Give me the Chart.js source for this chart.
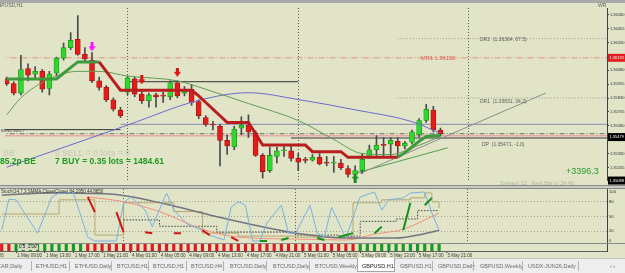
<!DOCTYPE html>
<html>
<head>
<meta charset="utf-8">
<script src="https://cdn.jsdelivr.net/npm/chart.js@4.4.1/dist/chart.umd.min.js"></script>
<style>
  html, body { margin: 0; padding: 0; }
  body { width: 625px; height: 273px; overflow: hidden; background: #e2e4c8; position: relative;
         font-family: "Liberation Sans", Arial, sans-serif; }
  canvas { position: absolute; left: 0; }
  .t { position: absolute; white-space: nowrap; line-height: 1; }
  .tab { position: absolute; top: 264px; font-size: 5.5px; color: #6a6a6a; white-space: nowrap; line-height: 1; }
  .tabsep { position: absolute; top: 261px; width: 1px; height: 10px; background: #b4b4b4; }
</style>
</head>
<body>
<div class="t" style="left:0;top:0;width:625px;height:3px;background:#a8a8a8"></div>
<canvas id="priceChart" width="625" height="182" style="top:3px"></canvas>
<div class="t" style="left:0;top:185px;width:625px;height:1px;background:#8a8a8a"></div>
<div class="t" style="left:0;top:186px;width:625px;height:2px;background:#c9c9c0"></div>
<div class="t" style="left:0;top:188px;width:625px;height:1px;background:#8a8a8a"></div>
<canvas id="oscChart" width="625" height="54" style="top:189px"></canvas>
<div class="t" style="left:0;top:243px;width:625px;height:1px;background:#8a8a8a"></div>
<canvas id="histChart" width="625" height="14" style="top:244px"></canvas>

<!-- chart texts -->
<div class="t" style="left:-6px;top:3px;font-size:5px;color:#5a5a5a">GBPUSD,H1</div>
<div class="t" style="left:598px;top:3px;font-size:5px;color:#5a5a5a">WR</div>
<div class="t" style="left:421px;top:56px;font-size:5.7px;color:#e05a50">MR1 1.36192</div>
<div class="t" style="left:480px;top:37px;font-size:5px;color:#5a5a5a">DR2&nbsp; (1.36364, 67.5)</div>
<div class="t" style="left:480px;top:99px;font-size:5px;color:#5a5a5a">DR1&nbsp; (1.35831, 34.2)</div>
<div class="t" style="left:482px;top:142px;font-size:5px;color:#5a5a5a">DP&nbsp; (1.35471, -1.0)</div>
<div class="t" style="left:1px;top:129px;font-size:4px;color:#404040">BRND WKLY</div>
<div class="t" style="left:3px;top:149px;font-size:8.5px;font-weight:bold;color:#cdcfbd">BE</div>
<div class="t" style="left:55px;top:149px;font-size:8.5px;font-weight:bold;color:#cdcfbd">0 SELL = 0 lots = 0</div>
<div class="t" style="left:0;top:157px;font-size:8.5px;font-weight:bold;color:#1f9a1f">85.2p BE</div>
<div class="t" style="left:55px;top:157px;font-size:8.5px;font-weight:bold;color:#1f9a1f">7 BUY = 0.35 lots = 1484.61</div>
<div class="t" style="left:566px;top:167px;font-size:9px;color:#2a9a2a">+3396.3</div>
<div class="t" style="left:500px;top:181px;font-size:5.5px;color:#b0b2a0">Spread: 22&nbsp;&nbsp; Next Bar in 24:46</div>
<div class="t" style="left:1px;top:190px;font-size:4.5px;color:#303030">Stoch(14,7,3,SMMA,Close/Close) 84.2950 44.8850</div>
<div class="t" style="left:18px;top:245px;font-size:4.5px;color:#111;background:#d6d8c0;padding:0 1px">0.5&nbsp; 1.00</div>

<!-- tabs -->
<div class="t" style="left:0;top:258px;width:625px;height:15px;background:#eeeeee;border-top:1px solid #c4c4c4"></div>
<div class="t" style="left:357px;top:258px;width:36px;height:13px;background:#ffffff;border:1px solid #a6a6a6;border-top:none"></div>
<div id="tabs"></div>

<script>
// ===== Data =====
const daySeparators = [17, 41, 65];

const candleOpen = [
  1.36002, 1.35960, 1.35875, 1.36096, 1.36045, 1.36070, 1.35917, 1.36053, 1.36189, 1.36283,
  1.36359, 1.36223, 1.36172, 1.35985, 1.35926, 1.35815, 1.35722, 1.35883, 1.36002, 1.35866,
  1.35807, 1.35858, 1.35849, 1.35841, 1.35968, 1.35875, 1.35909, 1.35798, 1.35654, 1.35590,
  1.35577, 1.35450, 1.35390, 1.35560, 1.35585, 1.35518, 1.35314, 1.35178, 1.35305, 1.35356,
  1.35356, 1.35288, 1.35271, 1.35271, 1.35297, 1.35246, 1.35245, 1.35246, 1.35195, 1.35144,
  1.35178, 1.35305, 1.35365, 1.35407, 1.35416, 1.35441, 1.35399, 1.35433, 1.35500, 1.35628,
  1.35722, 1.35543
];
const candleHigh = [
  1.36019, 1.35977, 1.36215, 1.36138, 1.36113, 1.36087, 1.36070, 1.36198, 1.36325, 1.36418,
  1.36572, 1.36283, 1.36240, 1.36019, 1.35943, 1.35832, 1.35747, 1.36028, 1.36019, 1.35900,
  1.35875, 1.35875, 1.35883, 1.35985, 1.35985, 1.35934, 1.35951, 1.35815, 1.35671, 1.35620,
  1.35594, 1.35500, 1.35577, 1.35662, 1.35679, 1.35535, 1.35331, 1.35390, 1.35390, 1.35407,
  1.35407, 1.35331, 1.35297, 1.35322, 1.35331, 1.35305, 1.35305, 1.35280, 1.35220, 1.35220,
  1.35331, 1.35407, 1.35492, 1.35475, 1.35475, 1.35475, 1.35441, 1.35543, 1.35645, 1.35773,
  1.35756, 1.35560
];
const candleLow = [
  1.35943, 1.35858, 1.35858, 1.35985, 1.36002, 1.35883, 1.35858, 1.36028, 1.36172, 1.36266,
  1.36215, 1.36155, 1.35968, 1.35900, 1.35798, 1.35713, 1.35654, 1.35858, 1.35841, 1.35781,
  1.35747, 1.35747, 1.35790, 1.35815, 1.35832, 1.35849, 1.35764, 1.35645, 1.35577, 1.35543,
  1.35220, 1.35322, 1.35365, 1.35500, 1.35475, 1.35305, 1.35110, 1.35161, 1.35246, 1.35305,
  1.35263, 1.35178, 1.35246, 1.35263, 1.35229, 1.35220, 1.35161, 1.35186, 1.35118, 1.35127,
  1.35152, 1.35288, 1.35305, 1.35305, 1.35305, 1.35305, 1.35373, 1.35416, 1.35483, 1.35611,
  1.35526, 1.35492
];
const candleClose = [
  1.35960, 1.35875, 1.36087, 1.36036, 1.36070, 1.35909, 1.36045, 1.36189, 1.36283, 1.36350,
  1.36223, 1.36181, 1.35985, 1.35926, 1.35815, 1.35730, 1.35671, 1.36011, 1.35866, 1.35807,
  1.35858, 1.35841, 1.35847, 1.35968, 1.35849, 1.35909, 1.35790, 1.35671, 1.35594, 1.35588,
  1.35450, 1.35399, 1.35552, 1.35585, 1.35526, 1.35314, 1.35169, 1.35314, 1.35356, 1.35365,
  1.35288, 1.35254, 1.35270, 1.35297, 1.35237, 1.35244, 1.35246, 1.35203, 1.35144, 1.35178,
  1.35280, 1.35365, 1.35407, 1.35405, 1.35450, 1.35399, 1.35424, 1.35526, 1.35628, 1.35730,
  1.35543, 1.35509
];

// trailing stop line and its direction (1 up / -1 down)
const trailStop = [
  1.36002, 1.36002, 1.36002, 1.36002, 1.36002, 1.36002, 1.36002, 1.36002, 1.36053, 1.36104,
  1.36155, 1.36155, 1.36155, 1.36155, 1.36070, 1.35985, 1.35900, 1.35900, 1.35900, 1.35900,
  1.35900, 1.35900, 1.35900, 1.35900, 1.35900, 1.35900, 1.35900, 1.35849, 1.35790, 1.35730,
  1.35671, 1.35611, 1.35611, 1.35611, 1.35611, 1.35509, 1.35407, 1.35407, 1.35407, 1.35407,
  1.35407, 1.35407, 1.35407, 1.35348, 1.35348, 1.35348, 1.35348, 1.35348, 1.35297, 1.35297,
  1.35297, 1.35297, 1.35297, 1.35297, 1.35297, 1.35297, 1.35339, 1.35390, 1.35441, 1.35484,
  1.35492, 1.35492
];
const trailTrend = [
  1, 1, 1, 1, 1, 1, 1, 1, 1, 1, 1, 1, 1, 1, -1, -1, -1, -1, -1, -1,
  -1, -1, -1, -1, -1, -1, -1, -1, -1, -1, -1, -1, -1, -1, -1, -1, -1, -1, -1, -1,
  -1, -1, -1, -1, -1, -1, -1, -1, -1, -1, -1, -1, -1, -1, -1, -1, 1, 1, 1, 1,
  1, 1
];

const blueMaIdx = [0, 17, 27, 34, 41, 49, 57, 61];
const blueMa = [1.35208, 1.35587, 1.35809, 1.35878, 1.35817, 1.35724, 1.35618, 1.35513];
const greenMaIdx = [0, 2, 6, 10, 13, 17, 24, 28, 34, 41, 46, 50, 54, 57, 61];
const greenMa = [1.35679, 1.35832, 1.36002, 1.36070, 1.36070, 1.36028, 1.35985, 1.35909, 1.35781,
                 1.35628, 1.35458, 1.35331, 1.35322, 1.35381, 1.35484];

// horizontal levels: price, first bar, last bar
const levelNames = ['MR1', 'DR2', 'DR1', 'DP', 'W', 'Pivot', 'Pink', 'High4', 'Low1'];
const levelPrice = [1.36192, 1.36364, 1.35831, 1.35471, 1.35594, 1.35509, 1.35492, 1.35977, 1.35546];
const levelFrom = [-1, 55, 55, 40, 16, -1, -1, 17, -1];
const levelTo = [86, 86, 86, 86, 86, 86, 86, 41, 16];

// trend lines: [bar, price] -> [bar, price]
const trendFromBar = [49.7, 48.9];
const trendFromPrice = [1.35152, 1.35152];
const trendToBar = [75.8, 62];
const trendToPrice = [1.35875, 1.35382];

const sellArrowIdx = [12, 19, 24];
const sellArrowPrice = [1.36291, 1.35994, 1.36062];
const buyArrowIdx = [49];
const buyArrowPrice = [1.35110];

const priceTicks = [1.36580, 1.36455, 1.36330, 1.36080, 1.35955, 1.35830, 1.35705, 1.35580, 1.35330, 1.35205];
const priceBoxValue = [1.36192, 1.35479, 1.35088];

// oscillator panel
const oscBlueIdx = [0, 1, 2, 5, 7, 8, 10, 12, 13, 16, 17, 18, 20, 21, 23, 24, 26, 28, 29, 31,
                    32, 33, 34, 35, 36, 37, 39, 40, 41, 43, 44, 45, 46, 48, 50, 52, 53, 54, 56, 57,
                    59, 60, 61];
const oscBlue = [22, 85, 84, 16, 90, 98, 98, 8, 0, 0, 78, 90, 63, 29, 98, 63, 33, 22, 12, 2,
                 69, 80, 73, 0, 0, 37, 73, 16, 16, 73, 16, 8, 69, 6, 90, 100, 63, 84, 88, 98,
                 100, 57, 22];
const oscGreyIdx = [0, 7, 15, 23, 29, 37, 41, 48, 55, 58, 61];
const oscGrey = [94, 98, 96, 75, 53, 27, 16, 6, 6, 12, 22];
const oscSalmonIdx = [12, 17, 22, 28, 33, 41, 48, 52, 56, 61];
const oscSalmon = [90, 80, 60, 24, 8, 4, 2, 14, 24, 57];
const oscOliveIdx = [0, 8, 13, 17, 24, 28, 33, 41, 49, 53, 57, 59, 60, 61];
const oscOlive = [55, 84, 12, 78, 60, 16, 10, 8, 78, 84, 88, 98, 80, 67];
const oscDotIdx = [17, 22, 30, 41, 47, 50, 55, 58, 61];
const oscDot = [43, 30, 18, 12, 10, 40, 45, 62, 62];
const sigDown = [[[12, 90], [13, 59]], [[16, 59], [17, 18]], [[20, 18], [21, 16]], [[24, 16], [25, 16]],
                 [[28, 22], [29, 12]], [[32, 8], [33, 0]]];
const sigUp = [[[36, 0], [37, 0]], [[39, 2], [40, 6]], [[44, 6], [45, 2]], [[47, 8], [49, 16]],
               [[52, 16], [53, 29]], [[56, 22], [57, 78]], [[59, 73], [60, 88]]];
const oscTicks = [0, 20, 50, 80, 100];

// histogram direction per bar
const histDir = [
  -1, -1, 1, 1, 1, 1, 1, 1, 1, 1, 1, 1, -1, -1, -1, -1, -1, -1, -1, -1,
  -1, -1, -1, -1, -1, -1, -1, -1, -1, -1, -1, -1, -1, -1, -1, -1, -1, -1, -1, -1,
  -1, -1, -1, -1, -1, -1, -1, -1, -1, -1, 1, 1, 1, 1, 1, 1, 1, 1, 1, 1,
  1, 1
];

const timeIdx = [-3.3, 2, 6, 10, 14, 18, 22, 26, 30, 34, 38, 42, 46, 50, 54, 58, 62];
const timeText = ['30 Apr 2026', '1 May 09:00', '1 May 13:00', '1 May 17:00', '1 May 21:00',
  '4 May 01:00', '4 May 05:00', '4 May 09:00', '4 May 13:00', '4 May 17:00', '4 May 21:00',
  '5 May 01:00', '5 May 05:00', '5 May 09:00', '5 May 13:00', '5 May 17:00', '5 May 21:00'];

const tabNames = ['USDZAR,Daily', 'ETHUSD,H1', 'ETHUSD,Daily', 'BTCUSD,H1', 'BTCUSD,H1', 'BTCUSD,H4',
  'BTCUSD,Daily', 'BTCUSD,Daily', 'BTCUSD,Weekly', 'GBPUSD,H1', 'GBPUSD,H1', 'GBPUSD,Daily',
  'GBPUSD,Weekly', 'USDX-JUN26,Daily'];
const tabLeft = [-14, 36, 75, 117, 153, 191, 230, 273, 315, 362, 400, 438, 480, 528];
const tabSepLeft = [31, 69, 111, 148, 186, 223, 266, 309, 432, 473, 522, 578];

// ===== Ranges and styles =====
const BAR_MIN = -0.237, BAR_MAX = 84.42;
const PRICE_MIN = 1.35093, PRICE_MAX = 1.36640;
const OSC_MIN = -4.1, OSC_MAX = 106.1;
const UP = '#2fd82f', UP_EDGE = '#159a15', DOWN = '#e41c1c', DOWN_EDGE = '#a81010';

const levelStyle = [
  { color: '#e8937e', width: 1, dash: [6, 2, 1, 2] },
  { color: '#9a9a8a', width: 1, dash: [1, 2] },
  { color: '#9a9a8a', width: 1, dash: [1, 2] },
  { color: '#707070', width: 1.5, dash: [] },
  { color: '#8888b4', width: 1, dash: [] },
  { color: '#6a6a6a', width: 1, dash: [5, 2, 1, 2] },
  { color: '#e8aaa0', width: 1.5, dash: [] },
  { color: '#303030', width: 1, dash: [] },
  { color: '#303030', width: 1, dash: [] }
];

Chart.defaults.font.family = '"Liberation Sans", Arial, sans-serif';
Chart.defaults.animation = false;
Chart.defaults.events = [];
Chart.defaults.elements.point.radius = 0;
Chart.defaults.elements.point.hoverRadius = 0;
Chart.defaults.plugins.legend.display = false;
Chart.defaults.plugins.tooltip.enabled = false;

const pts = (idx, vals) => idx.map((x, i) => ({ x: x, y: vals[i] }));

function segPoints(segs) {
  const out = [];
  segs.forEach(seg => {
    seg.forEach(p => out.push({ x: p[0], y: p[1] }));
    out.push({ x: seg[seg.length - 1][0] + 0.5, y: null });
  });
  return out;
}

function makeArrow(color, up) {
  const c = document.createElement('canvas');
  c.width = 7; c.height = 9;
  const g = c.getContext('2d');
  g.fillStyle = color;
  g.beginPath();
  if (up) {
    g.moveTo(3.5, 0); g.lineTo(7, 5); g.lineTo(0, 5); g.closePath(); g.fill();
    g.fillRect(2, 5, 3, 4);
  } else {
    g.fillRect(2, 0, 3, 4);
    g.moveTo(0, 4); g.lineTo(7, 4); g.lineTo(3.5, 9); g.closePath(); g.fill();
  }
  return c;
}

function dayGridX() {
  return {
    type: 'linear', min: BAR_MIN, max: BAR_MAX, offset: false,
    afterBuildTicks: s => { s.ticks = daySeparators.map(v => ({ value: v })); },
    ticks: { display: false },
    grid: { color: '#5c5c5c', lineWidth: 1, drawTicks: false, offset: false },
    border: { display: false, dash: [1, 2] },
    afterFit: s => { s.height = 0; s.paddingLeft = 0; s.paddingRight = 0; }
  };
}

// price boxes on the right axis
const priceBoxes = {
  id: 'priceBoxes',
  afterDraw(chart) {
    const { ctx, chartArea, scales } = chart;
    const fills = ['#e02020', '#000000', '#000000'];
    ctx.save();
    ctx.font = '4px "Liberation Sans", Arial, sans-serif';
    ctx.textBaseline = 'middle';
    priceBoxValue.forEach((v, i) => {
      const y = scales.y.getPixelForValue(v);
      ctx.fillStyle = fills[i];
      ctx.fillRect(chartArea.right + 1, y - 4, 17, 8);
      ctx.fillStyle = '#ffffff';
      ctx.fillText(v.toFixed(5), chartArea.right + 2.5, y);
    });
    ctx.restore();
  }
};

// ===== Price chart =====
const priceDatasets = [];
levelPrice.forEach((p, i) => {
  priceDatasets.push({
    type: 'line', label: levelNames[i],
    data: [{ x: levelFrom[i], y: p }, { x: levelTo[i], y: p }],
    borderColor: levelStyle[i].color, borderWidth: levelStyle[i].width,
    borderDash: levelStyle[i].dash, order: 9
  });
});
trendFromBar.forEach((b, i) => {
  priceDatasets.push({
    type: 'line',
    data: [{ x: b, y: trendFromPrice[i] }, { x: trendToBar[i], y: trendToPrice[i] }],
    borderColor: i === 0 ? '#8c8c8c' : '#4f9f4f', borderWidth: 1, order: 8
  });
});
priceDatasets.push({
  type: 'bar', label: 'wicks',
  data: candleHigh.map((h, i) => ({ x: i, y: [candleLow[i], h] })),
  backgroundColor: '#4a4a4a', barThickness: 1, grouped: false, order: 7
});
priceDatasets.push({
  type: 'bar', label: 'bodies',
  data: candleOpen.map((o, i) => ({ x: i, y: [o, candleClose[i]] })),
  backgroundColor: ctx => candleClose[ctx.dataIndex] >= candleOpen[ctx.dataIndex] ? UP : DOWN,
  borderColor: ctx => candleClose[ctx.dataIndex] >= candleOpen[ctx.dataIndex] ? UP_EDGE : DOWN_EDGE,
  borderWidth: 0.8, borderSkipped: false, barThickness: 5, minBarLength: 1, grouped: false, order: 6
});
priceDatasets.push({
  type: 'line', label: 'MA slow', data: pts(blueMaIdx, blueMa),
  borderColor: '#6a6ad0', borderWidth: 1, cubicInterpolationMode: 'monotone', order: 4
});
priceDatasets.push({
  type: 'line', label: 'MA fast', data: pts(greenMaIdx, greenMa),
  borderColor: '#5f9e52', borderWidth: 1, cubicInterpolationMode: 'monotone', order: 3
});
priceDatasets.push({
  type: 'line', label: 'trail',
  data: trailStop.map((v, i) => ({ x: i, y: v })),
  borderWidth: 3, borderColor: '#b81e1e',
  segment: { borderColor: ctx => trailTrend[ctx.p1DataIndex] > 0 ? '#3e9a3e' : '#b81e1e' },
  order: 2
});
const magentaArrow = makeArrow('#ff10ff', false);
const redArrow = makeArrow('#e01010', false);
priceDatasets.push({
  type: 'line', showLine: false, data: pts(sellArrowIdx, sellArrowPrice),
  pointRadius: 4, pointStyle: [magentaArrow, redArrow, redArrow], order: 0
});
priceDatasets.push({
  type: 'line', showLine: false, data: pts(buyArrowIdx, buyArrowPrice),
  pointRadius: 4, pointStyle: makeArrow('#1a8a1a', true), order: 0, clip: false
});

new Chart(document.getElementById('priceChart'), {
  type: 'bar',
  data: { datasets: priceDatasets },
  options: {
    responsive: false, devicePixelRatio: 1,
    layout: { padding: 0 },
    scales: {
      x: dayGridX(),
      y: {
        position: 'right', min: PRICE_MIN, max: PRICE_MAX,
        afterBuildTicks: s => { s.ticks = priceTicks.map(v => ({ value: v })); },
        ticks: { font: { size: 4 }, color: '#303030', padding: 1, callback: v => v.toFixed(5) },
        grid: { drawOnChartArea: false, tickLength: 2, color: '#404040' },
        border: { display: true, color: '#404040' },
        afterFit: s => { s.width = 18; s.paddingTop = 0; s.paddingBottom = 0; }
      }
    }
  },
  plugins: [priceBoxes]
});

// ===== Oscillator chart =====
new Chart(document.getElementById('oscChart'), {
  type: 'line',
  data: {
    datasets: [
      { data: pts(oscOliveIdx, oscOlive), stepped: true, borderColor: '#b6a86c', borderWidth: 1, order: 5 },
      { data: pts(oscDotIdx, oscDot), stepped: true, borderColor: '#404040', borderWidth: 1, borderDash: [1.5, 1.5], order: 4 },
      { data: pts(oscGreyIdx, oscGrey), borderColor: '#74747e', borderWidth: 1.5, cubicInterpolationMode: 'monotone', order: 3 },
      { data: pts(oscSalmonIdx, oscSalmon), borderColor: '#f2907c', borderWidth: 1, cubicInterpolationMode: 'monotone', order: 3 },
      { data: pts(oscBlueIdx, oscBlue), borderColor: '#78b2e0', borderWidth: 1, order: 2 },
      { data: segPoints(sigDown), borderColor: '#d01414', borderWidth: 2, spanGaps: false, order: 1 },
      { data: segPoints(sigUp), borderColor: '#13901a', borderWidth: 2, spanGaps: false, order: 1 }
    ]
  },
  options: {
    responsive: false, devicePixelRatio: 1,
    layout: { padding: 0 },
    scales: {
      x: dayGridX(),
      y: {
        position: 'right', min: OSC_MIN, max: OSC_MAX,
        afterBuildTicks: s => { s.ticks = oscTicks.map(v => ({ value: v })); },
        ticks: { font: { size: 4.2 }, color: '#303030', padding: 2, callback: v => String(v) },
        grid: {
          drawTicks: false,
          color: ctx => (ctx.tick && [20, 50, 80].includes(ctx.tick.value)) ? '#a2a290' : 'transparent'
        },
        border: { display: true, color: '#404040', dash: [1, 2] },
        afterFit: s => { s.width = 18; s.paddingTop = 0; s.paddingBottom = 0; }
      }
    }
  }
});

// ===== Histogram + time axis =====
new Chart(document.getElementById('histChart'), {
  type: 'bar',
  data: {
    datasets: [{
      data: histDir.map((d, i) => ({ x: i, y: 1 })),
      backgroundColor: histDir.map(d => d > 0 ? '#179a1f' : '#e01818'),
      barThickness: 2.5
    }]
  },
  options: {
    responsive: false, devicePixelRatio: 1,
    layout: { padding: { top: 0 } },
    scales: {
      x: {
        type: 'linear', min: BAR_MIN, max: BAR_MAX, offset: false,
        afterBuildTicks: s => { s.ticks = timeIdx.map(v => ({ value: v })); },
        ticks: {
          font: { size: 4.5 }, color: '#3a3a3a', padding: 0, align: 'start',
          autoSkip: false, maxRotation: 0, callback: (v, i) => ' ' + timeText[i]
        },
        grid: { drawOnChartArea: false, tickLength: 2, color: '#404040', offset: false },
        border: { display: true, color: '#606060' },
        afterFit: s => { s.paddingLeft = 0; s.paddingRight = 0; }
      },
      y: {
        position: 'right', min: 0, max: 1,
        ticks: { display: false },
        grid: { display: false },
        border: { display: true, color: '#404040' },
        afterFit: s => { s.width = 18; s.paddingTop = 0; s.paddingBottom = 0; }
      }
    }
  }
});

// ===== Tabs =====
const tabsEl = document.getElementById('tabs');
tabNames.forEach((name, i) => {
  const el = document.createElement('div');
  el.className = 'tab';
  el.style.left = tabLeft[i] + 'px';
  if (i === 9) el.style.color = '#222';
  el.textContent = name;
  tabsEl.appendChild(el);
});
tabSepLeft.forEach(x => {
  const s = document.createElement('div');
  s.className = 'tabsep';
  s.style.left = x + 'px';
  tabsEl.appendChild(s);
});
const arrows = document.createElement('div');
arrows.className = 'tab';
arrows.style.left = '610px';
arrows.textContent = '\u2039  \u203A';
tabsEl.appendChild(arrows);
</script>
</body>
</html>
